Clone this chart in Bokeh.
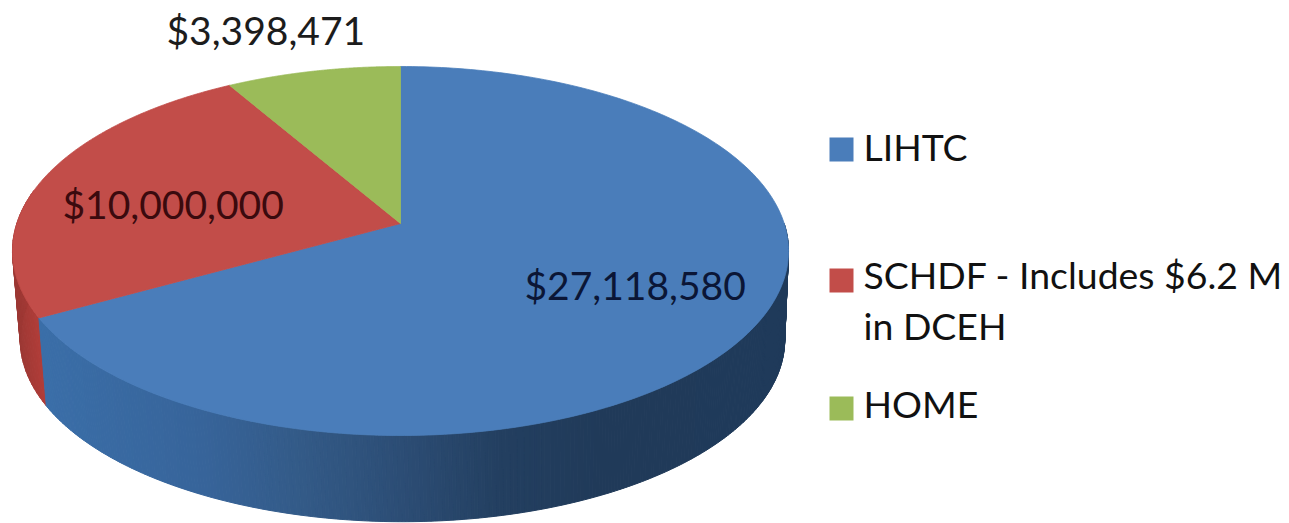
import numpy as np
from bokeh.core.properties import value
from bokeh.embed import file_html
from bokeh.models import ColumnDataSource, Range1d
from bokeh.plotting import figure
from bokeh.resources import INLINE

# Funding by source, drawn clockwise from twelve o'clock
categories = ["LIHTC", "SCHDF", "HOME"]
amounts = [27118580, 10000000, 3398471]
slice_colors = ["#4a7dba", "#c24d49", "#9bbb59"]
legend_lines = [["LIHTC"], ["SCHDF - Includes $6.2 M", "in DCEH"], ["HOME"]]

FONT = "Lato"
CX, APEX_Y = 400.0, 223.0
RIM_CY, BASE_CX, BASE_CY, BASE_SCALE = 250.0, 402.0, 339.0, 0.985

# Tilted disc seen in perspective: the rim is an ellipse and the pie's apex sits above its centre
K, A, B = 0.149, 383.7, 180.4


def rim(theta):
    x, y = np.sin(theta), np.cos(theta)
    w = 1 + K * y
    return CX + A * x / w, APEX_Y - B * y / w


def base(theta):
    sx, sy = rim(theta)
    return BASE_CX + BASE_SCALE * (sx - CX), BASE_CY + BASE_SCALE * (sy - RIM_CY)


def mix(stops, x):
    xs = [s[0] for s in stops]
    chans = [np.interp(x, xs, [int(s[1][i:i + 2], 16) for s in stops]) for i in (1, 3, 5)]
    return "#%02x%02x%02x" % tuple(int(round(c)) for c in chans)


blue_wall = [(40, "#3a6ea8"), (200, "#37649a"), (300, "#335a87"), (400, "#2c4d75"),
             (500, "#233f60"), (600, "#203a59"), (790, "#1f3a5a")]
red_wall = [(12, "#9c3834"), (30, "#ab3b37"), (45, "#b63f3b")]

fractions = np.array(amounts) / sum(amounts)
edges = np.concatenate([[0.0], np.cumsum(fractions)]) * 2 * np.pi

p = figure(width=1289, height=523, output_backend="svg", toolbar_location=None,
           x_range=Range1d(0, 1289), y_range=Range1d(523, 0), min_border=0,
           background_fill_color="white", border_fill_color="white", outline_line_color=None)
p.axis.visible = False
p.grid.visible = False


def wall(start, stop, stops, count):
    ts = np.linspace(start, stop, count + 1)
    xs, ys, colors = [], [], []
    for t0, t1 in zip(ts[:-1], ts[1:]):
        x0, y0 = rim(t0)
        x1, y1 = rim(t1)
        x2, y2 = base(t1)
        x3, y3 = base(t0)
        xs.append([x0, x1, x2, x3])
        ys.append([y0, y1, y2, y3])
        colors.append(mix(stops, (x0 + x1) / 2))
    p.patches("x", "y", source=ColumnDataSource(dict(x=xs, y=ys, c=colors)),
              fill_color="c", line_color="c", line_width=1)


# Side walls: the SCHDF sliver on the left, then the long LIHTC face
wall(edges[1], 1.56 * np.pi, red_wall, 30)
wall(0.5 * np.pi, edges[1], blue_wall, 320)

# Top face of each slice
for start, stop, color in zip(edges[:-1], edges[1:], slice_colors):
    ts = np.linspace(start, stop, 240)
    rx, ry = rim(ts)
    p.patch(np.concatenate([[CX], rx]), np.concatenate([[APEX_Y], ry]),
            fill_color=color, line_color=color, line_width=0.8)

# Amount labels on and above the slices
label_x = [524, 62, 166]
label_y = [284, 203, 29]
label_colors = ["#0b1636", "#3a0a0e", "#1c1c1c"]
p.text(label_x, label_y, text=[f"${a:,}" for a in amounts], text_color=label_colors,
       text_font=value(FONT), text_font_size="39px", text_baseline="alphabetic", text_align="left")

# Legend
swatch_top = [137, 268, 396]
for color, top in zip(slice_colors, swatch_top):
    p.quad(left=829, right=853, top=top, bottom=top + 24, fill_color=color, line_color=None)
text_x, text_y, text_s = [], [], []
for lines, ys in zip(legend_lines, [[146], [274, 325], [403]]):
    for line, y in zip(lines, ys):
        text_x.append(863)
        text_y.append(y)
        text_s.append(line)
p.text(text_x, text_y, text=text_s, text_color="#111111", text_font=value(FONT),
       text_font_size="37.4px", text_baseline="alphabetic", text_align="left")

open("out.html", "w").write(file_html(p, INLINE))
